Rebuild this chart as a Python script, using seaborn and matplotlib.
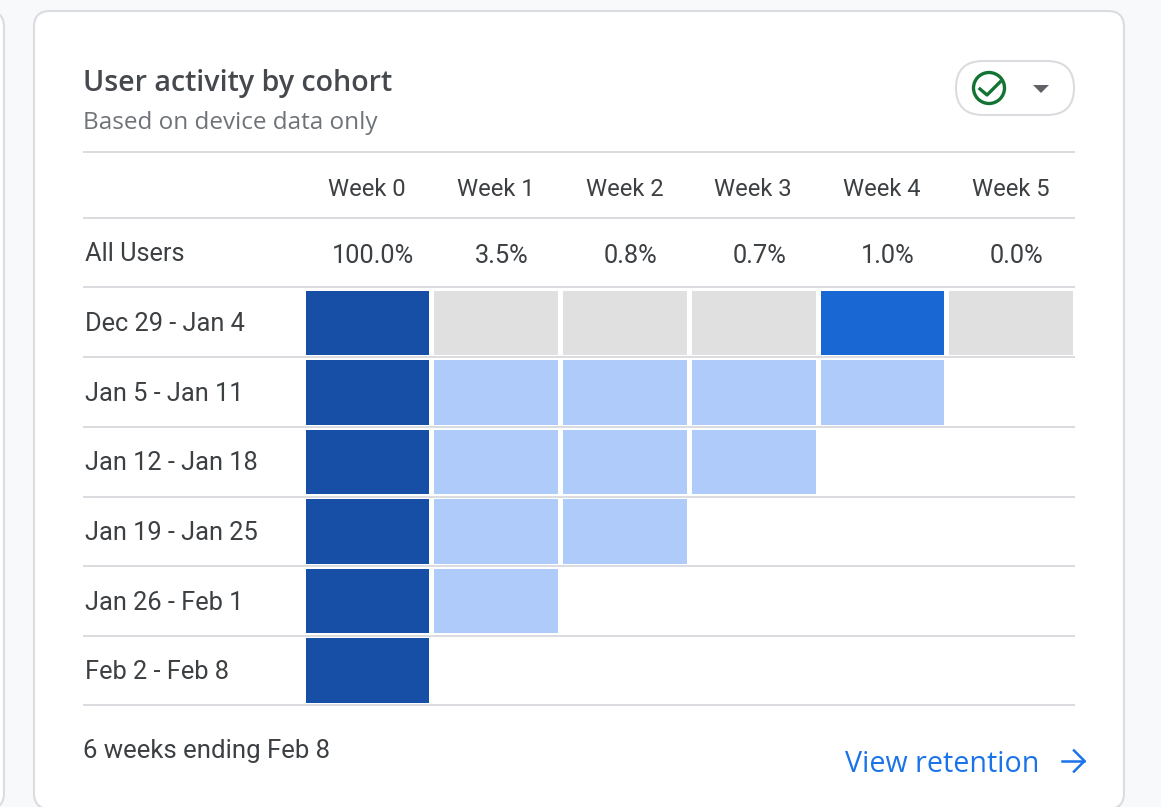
import numpy as np
import matplotlib
matplotlib.use('Agg')
import matplotlib.pyplot as plt
import seaborn as sns
from matplotlib.colors import ListedColormap
from matplotlib.patches import FancyBboxPatch, Circle, Polygon
from matplotlib.transforms import ScaledTranslation

# Datos de la tabla.
weeks = ['Week 0', 'Week 1', 'Week 2', 'Week 3', 'Week 4', 'Week 5']
cohorts = ['Dec 29 - Jan 4', 'Jan 5 - Jan 11', 'Jan 12 - Jan 18',
           'Jan 19 - Jan 25', 'Jan 26 - Feb 1', 'Feb 2 - Feb 8']
all_users = ['100.0%', '3.5%', '0.8%', '0.7%', '1.0%', '0.0%']

# Nivel de color de cada celda: 0 gris, 1 claro, 2 medio, 3 oscuro.
row_dec29 = [3, 0, 0, 0, 2, 0]
row_jan05 = [3, 1, 1, 1, 1, np.nan]
row_jan12 = [3, 1, 1, 1, np.nan, np.nan]
row_jan19 = [3, 1, 1, np.nan, np.nan, np.nan]
row_jan26 = [3, 1, np.nan, np.nan, np.nan, np.nan]
row_feb02 = [3, np.nan, np.nan, np.nan, np.nan, np.nan]
levels = np.array([row_dec29, row_jan05, row_jan12, row_jan19, row_jan26, row_feb02])

level_colors = ['#e0e0e0', '#aecbfa', '#1967d2', '#174ea6']
GRID = '#dadce0'
TEXT = '#3c4043'
BLUE = '#1a73e8'
W, H = 1161, 807

plt.rcParams['font.family'] = ['Roboto', 'DejaVu Sans']
fig = plt.figure(figsize=(W / 100, H / 100), dpi=100, facecolor='#f8f9fa')


def px_axes(left, top, right, bottom, **kw):
    return fig.add_axes([left / W, 1 - bottom / H, (right - left) / W, (bottom - top) / H], **kw)


# Tarjeta de fondo.
bg = px_axes(0, 0, W, H, zorder=0)
bg.set_xlim(0, W)
bg.set_ylim(H, 0)
bg.axis('off')
bg.add_patch(FancyBboxPatch((34, 11), 1090, 798, boxstyle='round,pad=0,rounding_size=16',
                            fc='white', ec=GRID, lw=1.5, clip_on=True))
bg.add_patch(FancyBboxPatch((-60, 11), 64, 798, boxstyle='round,pad=0,rounding_size=16',
                            fc='white', ec=GRID, lw=1.5, clip_on=True))

# Mapa de calor.
ax = px_axes(302.5, 287.5, 1075, 705, zorder=1)
ax.patch.set_alpha(0)
sns.heatmap(levels, ax=ax, cmap=ListedColormap(level_colors), vmin=-0.5, vmax=3.5, cbar=False,
            linewidths=3.6, linecolor='white', xticklabels=weeks, yticklabels=cohorts)
ax.xaxis.tick_top()
ax.tick_params(axis='both', length=0)
ax.tick_params(axis='x', pad=62, labelsize=17.1, labelcolor=TEXT, rotation=0)
ax.tick_params(axis='y', pad=156.7, labelsize=18.3, labelcolor=TEXT, rotation=0)
for label in ax.get_yticklabels():
    label.set_ha('left')
    label.set_transform(label.get_transform() + ScaledTranslation(0, -0.02, fig.dpi_scale_trans))

# Encabezado, filas y pie.
fg = px_axes(0, 0, W, H, zorder=2)
fg.set_xlim(0, W)
fg.set_ylim(H, 0)
fg.axis('off')
fg.patch.set_alpha(0)
for y in [152, 218, 287, 357, 427, 497, 566, 636, 704.5]:
    fg.plot([83, 1075], [y, y], color=GRID, lw=1.4, solid_capstyle='butt')

fg.text(83, 84, 'User activity by cohort', fontsize=20.6, family='Open Sans', fontweight='semibold',
        color='#45484c', va='center', ha='left')
fg.text(83, 123, 'Based on device data only', fontsize=17.5, family='Open Sans', color='#6f7378',
        va='center', ha='left')
fg.text(85, 254, 'All Users', fontsize=18.3, color=TEXT, va='center', ha='left')
for i, val in enumerate(all_users):
    fg.text(302.5 + 128.75 * (i + 0.5) + 6, 256, val, fontsize=18.3, color=TEXT, va='center', ha='center')
fg.text(83, 751, '6 weeks ending Feb 8', fontsize=18.5, color=TEXT, va='center', ha='left')
fg.text(845, 765, 'View retention', fontsize=20.6, family='Open Sans', fontweight='medium',
        color=BLUE, va='center', ha='left')

# Flecha de "View retention".
fg.plot([1062, 1084], [761, 761], color=BLUE, lw=1.8)
fg.plot([1074, 1084.5, 1074], [750.5, 761, 771.5], color=BLUE, lw=1.8)

# Selector con el icono de verificación.
fg.add_patch(FancyBboxPatch((956, 61), 118, 54, boxstyle='round,pad=0,rounding_size=27',
                            fc='white', ec=GRID, lw=1.5))
fg.add_patch(Circle((989, 88), 15.5, fc='none', ec='#137333', lw=2.4))
fg.plot([980, 987, 1000], [89, 95, 82], color='#137333', lw=2.4)
fg.add_patch(Polygon([[1033, 85], [1049, 85], [1041, 93]], fc='#5f6368', ec='none'))

plt.savefig('out.png', dpi=100, facecolor=fig.get_facecolor())
